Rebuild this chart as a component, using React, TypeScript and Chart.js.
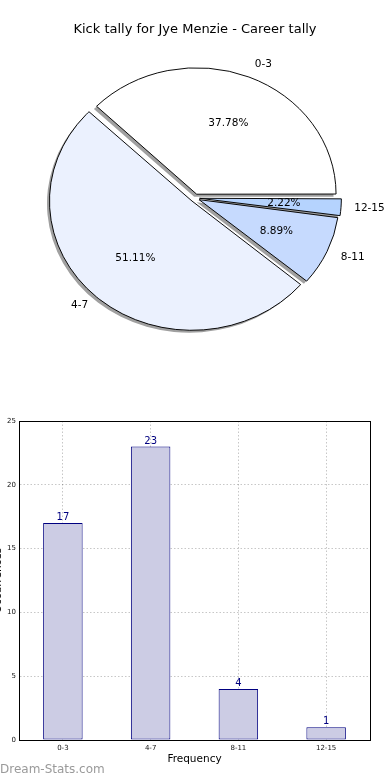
import React, { useEffect, useRef } from 'react';
import { Chart, registerables } from 'chart.js';

Chart.register(...registerables);

// ---- data ----
const categories = ['0-3', '4-7', '8-11', '12-15'];
const tallies = [17, 23, 4, 1];
const pieColors = ['#ffffff', '#ebf1fe', '#c6dafe', '#b5d3fe'];
const yTicks = [0, 5, 10, 15, 20, 25];
const chartTitle = 'Kick tally for Jye Menzie - Career tally';
const xTitle = 'Frequency';
const yTitle = 'Occurrences';
const watermark = 'Dream-Stats.com';

const FONT = '"DejaVu Sans", Verdana, sans-serif';
const Y_SQUASH = 0.907;
const EXPLODE = 18; // Chart.js divides arc offset by 4
const SHADOW = 2.5;

const total = tallies.reduce((a, b) => a + b, 0);
// matplotlib goes counter-clockwise from 3 o'clock; Chart.js clockwise -> reverse order
const pieLabels = [...categories].reverse();
const pieValues = [...tallies].reverse();
const pieFill = [...pieColors].reverse();

const piePlugin = {
  id: 'pieEllipse',
  beforeDatasetsDraw(chart: any) {
    const ctx = chart.ctx;
    const meta = chart.getDatasetMeta(0);
    const first = meta.data[0];
    const cx = first.x;
    const cy = first.y;
    ctx.save();
    ctx.translate(cx, cy);
    ctx.scale(1, Y_SQUASH);
    ctx.translate(-cx, -cy);
    ctx.fillStyle = '#a0a0a0';
    meta.data.forEach((arc: any) => {
      const off = (arc.options.offset || 0) / 4;
      const mid = (arc.startAngle + arc.endAngle) / 2;
      const circ = arc.endAngle - arc.startAngle;
      const fix = 1 - Math.sin(Math.min(Math.PI, circ));
      const r = arc.outerRadius + off * fix;
      const ox = arc.x + Math.cos(mid) * off - SHADOW;
      const oy = arc.y + Math.sin(mid) * off + SHADOW / Y_SQUASH;
      ctx.beginPath();
      ctx.moveTo(ox, oy);
      ctx.arc(ox, oy, r, arc.startAngle, arc.endAngle);
      ctx.closePath();
      ctx.fill();
    });
  },
  afterDatasetsDraw(chart: any) {
    const ctx = chart.ctx;
    ctx.restore();
    const meta = chart.getDatasetMeta(0);
    const values = chart.data.datasets[0].data as number[];
    const labels = chart.data.labels as string[];
    ctx.save();
    ctx.fillStyle = '#000';
    ctx.font = `10.5px ${FONT}`;
    ctx.textBaseline = 'middle';
    meta.data.forEach((arc: any, i: number) => {
      const off = (arc.options.offset || 0) / 4;
      const mid = (arc.startAngle + arc.endAngle) / 2;
      const R = arc.outerRadius + 3;
      const bx = arc.x + Math.cos(mid) * off;
      const by = arc.y + Math.sin(mid) * off;
      const toY = (y: number) => arc.y + (y - arc.y) * Y_SQUASH;
      // percentage
      const px = bx + Math.cos(mid) * R * 0.6;
      const py = toY(by + Math.sin(mid) * R * 0.6);
      ctx.textAlign = 'center';
      ctx.fillText(((values[i] / total) * 100).toFixed(2) + '%', px, py);
      // category label
      const lx = bx + Math.cos(mid) * R * 1.1;
      const ly = toY(by + Math.sin(mid) * R * 1.1);
      ctx.textAlign = Math.cos(mid) > 0 ? 'left' : 'right';
      ctx.fillText(labels[i], lx, ly);
    });
    ctx.restore();
  },
};

const framePlugin = {
  id: 'frame',
  afterDraw(chart: any) {
    const { ctx, chartArea: a } = chart;
    ctx.save();
    ctx.strokeStyle = '#000';
    ctx.lineWidth = 1;
    ctx.strokeRect(Math.round(a.left) + 0.5, Math.round(a.top) + 0.5, Math.round(a.right - a.left), Math.round(a.bottom - a.top));
    ctx.restore();
  },
};

const valuePlugin = {
  id: 'values',
  afterDatasetsDraw(chart: any) {
    const ctx = chart.ctx;
    const meta = chart.getDatasetMeta(0);
    const values = chart.data.datasets[0].data as number[];
    ctx.save();
    ctx.fillStyle = '#000080';
    ctx.font = `10px ${FONT}`;
    ctx.textAlign = 'center';
    ctx.textBaseline = 'alphabetic';
    meta.data.forEach((bar: any, i: number) => {
      ctx.fillText(String(values[i]), bar.x, bar.y - 3);
    });
    ctx.restore();
  },
};

export default function App() {
  const pieRef = useRef<HTMLCanvasElement>(null);
  const barRef = useRef<HTMLCanvasElement>(null);

  useEffect(() => {
    Chart.defaults.font.family = FONT;
    const pie = new Chart(pieRef.current as HTMLCanvasElement, {
      type: 'pie',
      data: {
        labels: pieLabels,
        datasets: [
          {
            data: pieValues,
            backgroundColor: pieFill,
            borderColor: '#000',
            borderWidth: 1,
            offset: EXPLODE,
            clip: false as any,
          },
        ],
      },
      options: {
        responsive: false,
        animation: false,
        events: [],
        rotation: 90,
        radius: 138,
        layout: { padding: { top: 0, bottom: 41.6, left: 0, right: 0 } },
        plugins: {
          legend: { display: false },
          tooltip: { enabled: false },
          title: {
            display: true,
            text: chartTitle,
            color: '#000',
            font: { family: FONT, size: 13, weight: 'normal', lineHeight: 1.2 },
            padding: { top: 22, bottom: 0 },
          },
        },
      } as any,
      plugins: [piePlugin],
    });

    const bar = new Chart(barRef.current as HTMLCanvasElement, {
      type: 'bar',
      data: {
        labels: categories,
        datasets: [
          {
            data: tallies,
            backgroundColor: '#ccccE4',
            borderColor: '#000080',
            borderWidth: 1,
            borderSkipped: false,
            barPercentage: 0.45,
            categoryPercentage: 1,
          },
        ],
      },
      options: {
        responsive: false,
        animation: false,
        events: [],
        layout: { padding: { top: 21, right: 20, left: 0, bottom: 0 } },
        plugins: { legend: { display: false }, tooltip: { enabled: false } },
        scales: {
          x: {
            z: 1,
            grid: { offset: false, color: 'rgba(0,0,0,0.22)', drawTicks: false, lineWidth: 1 },
            border: { display: true, color: '#000', width: 1, dash: [1.5, 2] },
            ticks: { font: { family: FONT, size: 7 }, color: '#111', padding: 4, maxRotation: 0 },
            title: {
              display: true,
              text: xTitle,
              color: '#000',
              font: { family: FONT, size: 10.5, lineHeight: 1.2 },
              padding: { top: 0, bottom: 14 },
            },
            afterFit: (s: any) => {
              s.height = 40;
            },
          },
          y: {
            z: 1,
            min: yTicks[0],
            max: yTicks[yTicks.length - 1],
            grid: { color: 'rgba(0,0,0,0.22)', drawTicks: false, lineWidth: 1 },
            border: { display: true, color: '#000', width: 1, dash: [1.5, 2] },
            ticks: { stepSize: yTicks[1] - yTicks[0], font: { family: FONT, size: 7 }, color: '#111', padding: 3 },
            title: {
              display: true,
              text: yTitle,
              color: '#000',
              font: { family: FONT, size: 10.5, lineHeight: 1.2 },
              padding: { top: 0, bottom: 0 },
            },
            afterFit: (s: any) => {
              s.width = 27;
            },
          },
        },
      } as any,
      plugins: [valuePlugin, framePlugin],
    });

    return () => {
      pie.destroy();
      bar.destroy();
    };
  }, []);

  return (
    <div
      style={{
        position: 'absolute',
        left: 0,
        top: 0,
        width: 390,
        height: 780,
        overflow: 'hidden',
        background: '#fff',
      }}
    >
      <canvas
        ref={pieRef}
        width={390}
        height={400}
        style={{ position: 'absolute', left: 0, top: 0, width: 390, height: 400 }}
      />
      <canvas
        ref={barRef}
        width={398}
        height={380}
        style={{ position: 'absolute', left: -8, top: 400, width: 398, height: 380 }}
      />
      <div
        style={{
          position: 'absolute',
          left: 0,
          top: 762,
          fontFamily: FONT,
          fontSize: 12,
          lineHeight: '14px',
          color: '#9a9a9a',
          whiteSpace: 'nowrap',
        }}
      >
        {watermark}
      </div>
    </div>
  );
}
